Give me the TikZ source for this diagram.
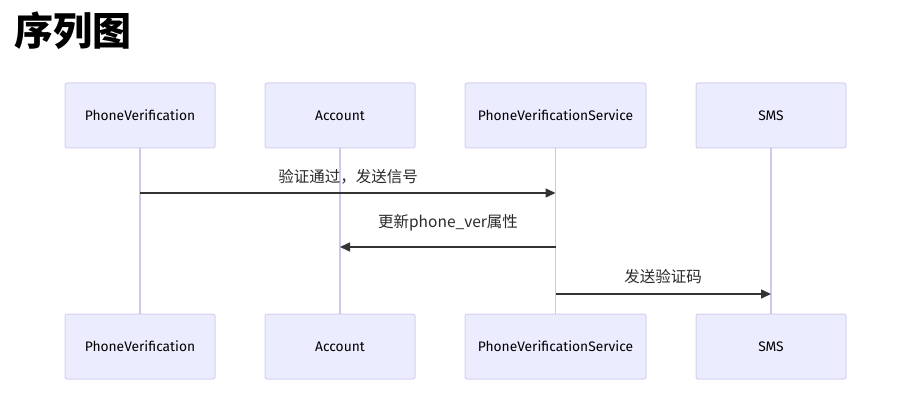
\documentclass[tikz,border=0pt]{standalone}
\usepackage{fontspec}
\setmainfont{Noto Sans CJK SC}
\newfontfamily\boxfont{Fira Sans}
\usetikzlibrary{arrows.meta}
\definecolor{actfill}{HTML}{ECECFF}
\definecolor{actline}{HTML}{D6D0F0}
\definecolor{lifeline}{HTML}{CFC8EE}
\definecolor{msgcol}{HTML}{333333}
\tikzset{
  actor/.style={draw=actline, line width=1pt, fill=actfill, rounded corners=2pt,
    minimum height=65pt, inner sep=0pt, font=\boxfont\fontsize{13.8}{16}\selectfont, text=black},
  life/.style={draw=lifeline, line width=1.5pt},
  msg/.style={draw=msgcol, line width=1.5pt, -{Triangle[length=10pt,width=9pt]}},
  msglabel/.style={font=\fontsize{15.5}{18}\selectfont, text=msgcol!80!black, inner sep=0pt},
}
\begin{document}
\begin{tikzpicture}[x=1pt,y=-1pt]
\useasboundingbox (0,0) rectangle (902,403);
\node[anchor=west, font=\bfseries\fontsize{39}{42}\selectfont, inner sep=0pt] (title) at (14,31) {序列图};
% top actors
\node[actor, minimum width=150pt] (a1) at (140,115.5) {PhoneVerification};
\node[actor, minimum width=150pt] (a2) at (340,115.5) {Account};
\node[actor, minimum width=181pt] (a3) at (555.5,115.5) {PhoneVerificationService};
\node[actor, minimum width=150pt] (a4) at (771,115.5) {SMS};
% bottom actors
\node[actor, minimum width=150pt] (b1) at (140,346.5) {PhoneVerification};
\node[actor, minimum width=150pt] (b2) at (340,346.5) {Account};
\node[actor, minimum width=181pt] (b3) at (555.5,346.5) {PhoneVerificationService};
\node[actor, minimum width=150pt] (b4) at (771,346.5) {SMS};
% lifelines
\draw[life] (a1.south) -- (b1.north);
\draw[life] (a2.south) -- (b2.north);
\draw[life] (a3.south) -- (b3.north);
\draw[life] (a4.south) -- (b4.north);
% message points
\coordinate (m1s) at (140,193); \coordinate (m1e) at (555.5,193);
\coordinate (m2s) at (555.5,247); \coordinate (m2e) at (340,247);
\coordinate (m3s) at (555.5,294); \coordinate (m3e) at (771,294);
\draw[msg] (m1s) -- (m1e);
\draw[msg] (m2s) -- (m2e);
\draw[msg] (m3s) -- (m3e);
\node[msglabel] (l1) at (348,177) {验证通过，发送信号};
\node[msglabel] (l2) at (448,223) {更新phone\_ver属性};
\node[msglabel] (l3) at (663,277) {发送验证码};
\end{tikzpicture}
\end{document}
